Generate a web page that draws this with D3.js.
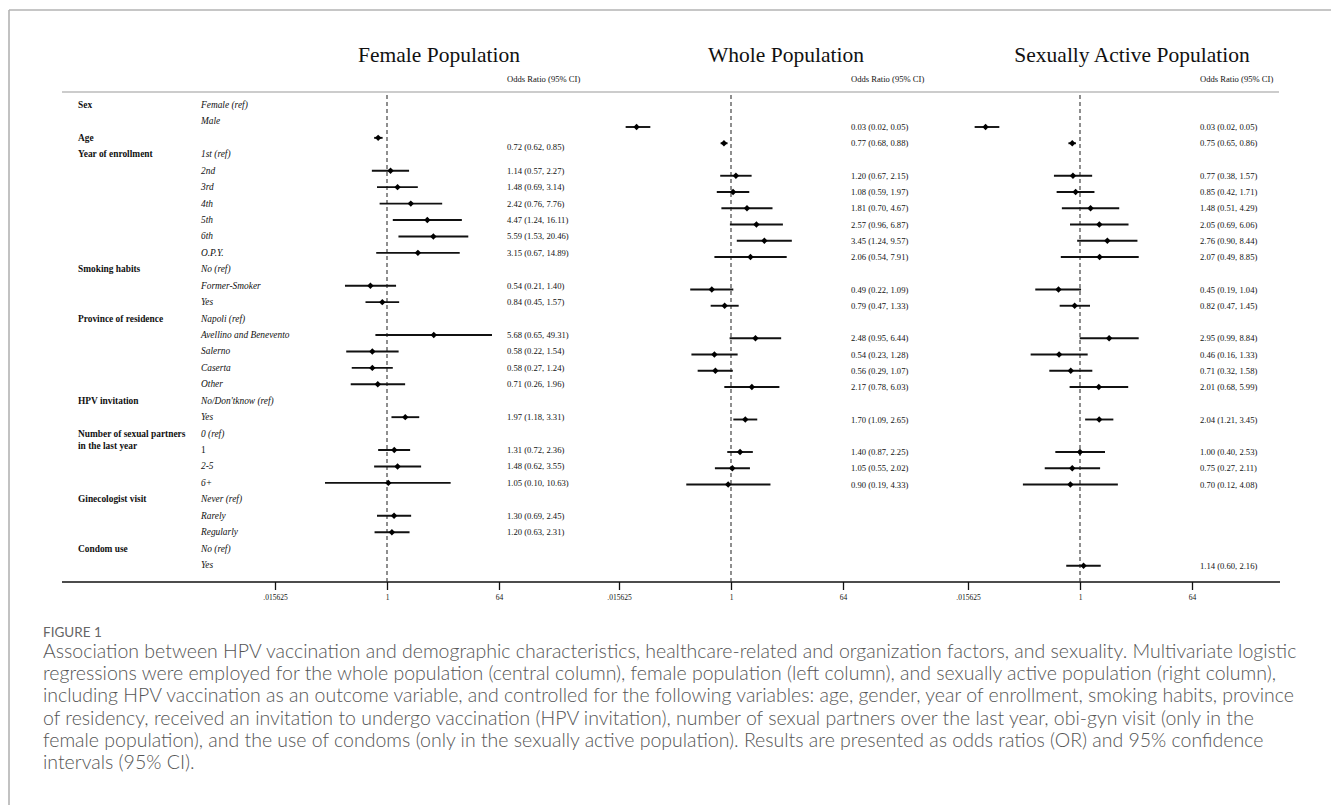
<!DOCTYPE html>
<html>
<head>
<meta charset="utf-8">
<script src="https://cdn.jsdelivr.net/npm/d3@7"></script>
<style>
  body { margin: 0; background: #fff; }
  svg { display: block; }
</style>
</head>
<body>
<script>
// row labels (left columns)
const groupLabels = ["Sex", "", "Age", "Year of enrollment", "", "", "", "", "", "",
  "Smoking habits", "", "", "Province of residence", "", "", "", "",
  "HPV invitation", "", "Number of sexual partners", "", "", "",
  "Ginecologist visit", "", "", "Condom use", ""];
const itemLabels = ["Female (ref)", "Male", "", "1st (ref)", "2nd", "3rd", "4th", "5th", "6th", "O.P.Y.",
  "No (ref)", "Former-Smoker", "Yes", "Napoli (ref)", "Avellino and Benevento", "Salerno", "Caserta", "Other",
  "No/Don'tknow (ref)", "Yes", "0 (ref)", "1", "2-5", "6+",
  "Never (ref)", "Rarely", "Regularly", "No (ref)", "Yes"];

const panelTitles = ["Female Population", "Whole Population", "Sexually Active Population"];
const tickValues = [1 / 64, 1, 64];
const tickLabels = [".015625", "1", "64"];

// Female population
const femaleRows = [2, 4, 5, 6, 7, 8, 9, 11, 12, 14, 15, 16, 17, 19, 21, 22, 23, 25, 26];
const femaleOR = [0.72, 1.14, 1.48, 2.42, 4.47, 5.59, 3.15, 0.54, 0.84, 5.68, 0.58, 0.58, 0.71, 1.97, 1.31, 1.48, 1.05, 1.30, 1.20];
const femaleLo = [0.62, 0.57, 0.69, 0.76, 1.24, 1.53, 0.67, 0.21, 0.45, 0.65, 0.22, 0.27, 0.26, 1.18, 0.72, 0.62, 0.10, 0.69, 0.63];
const femaleHi = [0.85, 2.27, 3.14, 7.76, 16.11, 20.46, 14.89, 1.40, 1.57, 49.31, 1.54, 1.24, 1.96, 3.31, 2.36, 3.55, 10.63, 2.45, 2.31];

// Whole population
const wholeRows = [1, 2, 4, 5, 6, 7, 8, 9, 11, 12, 14, 15, 16, 17, 19, 21, 22, 23];
const wholeOR = [0.03, 0.77, 1.20, 1.08, 1.81, 2.57, 3.45, 2.06, 0.49, 0.79, 2.48, 0.54, 0.56, 2.17, 1.70, 1.40, 1.05, 0.90];
const wholeLo = [0.02, 0.68, 0.67, 0.59, 0.70, 0.96, 1.24, 0.54, 0.22, 0.47, 0.95, 0.23, 0.29, 0.78, 1.09, 0.87, 0.55, 0.19];
const wholeHi = [0.05, 0.88, 2.15, 1.97, 4.67, 6.87, 9.57, 7.91, 1.09, 1.33, 6.44, 1.28, 1.07, 6.03, 2.65, 2.25, 2.02, 4.33];

// Sexually active population
const activeRows = [1, 2, 4, 5, 6, 7, 8, 9, 11, 12, 14, 15, 16, 17, 19, 21, 22, 23, 28];
const activeOR = [0.03, 0.75, 0.77, 0.85, 1.48, 2.05, 2.76, 2.07, 0.45, 0.82, 2.95, 0.46, 0.71, 2.01, 2.04, 1.00, 0.75, 0.70, 1.14];
const activeLo = [0.02, 0.65, 0.38, 0.42, 0.51, 0.69, 0.90, 0.49, 0.19, 0.47, 0.99, 0.16, 0.32, 0.68, 1.21, 0.40, 0.27, 0.12, 0.60];
const activeHi = [0.05, 0.86, 1.57, 1.71, 4.29, 6.06, 8.44, 8.85, 1.04, 1.45, 8.84, 1.33, 1.58, 5.99, 3.45, 2.53, 2.11, 4.08, 2.16];

const captionHead = "FIGURE 1";
const captionLines = [
  "Association between HPV vaccination and demographic characteristics, healthcare-related and organization factors, and sexuality. Multivariate logistic",
  "regressions were employed for the whole population (central column), female population (left column), and sexually active population (right column),",
  "including HPV vaccination as an outcome variable, and controlled for the following variables: age, gender, year of enrollment, smoking habits, province",
  "of residency, received an invitation to undergo vaccination (HPV invitation), number of sexual partners over the last year, obi-gyn visit (only in the",
  "female population), and the use of condoms (only in the sexually active population). Results are presented as odds ratios (OR) and 95% confidence",
  "intervals (95% CI)."
];

const width = 1331, height = 805;
const serif = "'Liberation Serif', 'Times New Roman', serif";
const sans = "Lato, 'Open Sans', sans-serif";

const axisY = 582, headerY = 92, plotTop = 95;
const halfSpan = 112; // pixels from 1 to 64

// panel layout
const panels = [
  { title: panelTitles[0], center: 387, titleX: 439, textX: 507, rows: femaleRows, or: femaleOR, lo: femaleLo, hi: femaleHi, y0: 105, step: 16.43 },
  { title: panelTitles[1], center: 731, titleX: 786, textX: 851, rows: wholeRows, or: wholeOR, lo: wholeLo, hi: wholeHi, y0: 110.75, step: 16.25 },
  { title: panelTitles[2], center: 1080, titleX: 1132, textX: 1200, rows: activeRows, or: activeOR, lo: activeLo, hi: activeHi, y0: 110.75, step: 16.25 }
];

const svg = d3.select("body").append("svg")
  .attr("width", width)
  .attr("height", height)
  .attr("viewBox", [0, 0, width, height]);

// frame
svg.append("line").attr("x1", 9).attr("x2", width).attr("y1", 10).attr("y2", 10)
  .attr("stroke", "#b3b3b3").attr("stroke-width", 1.6);
svg.append("line").attr("x1", 9).attr("x2", 9).attr("y1", 10).attr("y2", height)
  .attr("stroke", "#b3b3b3").attr("stroke-width", 1.6);

// header rule
svg.append("line").attr("x1", 62).attr("x2", 1279).attr("y1", headerY).attr("y2", headerY)
  .attr("stroke", "#9a9a9a").attr("stroke-width", 1.2);

// left labels
const labelY = d3.scaleLinear([0, 1], [105, 105 + 16.43]);
const labels = svg.append("g").attr("font-family", serif).attr("font-size", 9.4).attr("fill", "#111");
labels.selectAll("text.grp")
  .data(d3.range(groupLabels.length).filter((i) => groupLabels[i]))
  .join("text")
  .attr("class", "grp")
  .attr("x", 78)
  .attr("y", (i) => labelY(i) + 3)
  .attr("font-weight", 700)
  .text((i) => groupLabels[i]);
labels.append("text")
  .attr("x", 78)
  .attr("y", labelY(20) + 15)
  .attr("font-weight", 700)
  .text("in the last year");
labels.selectAll("text.itm")
  .data(d3.range(itemLabels.length).filter((i) => itemLabels[i]))
  .join("text")
  .attr("class", "itm")
  .attr("x", 201)
  .attr("y", (i) => labelY(i) + 3)
  .attr("font-style", (i) => (itemLabels[i] === "1" ? "normal" : "italic"))
  .text((i) => itemLabels[i]);

// axis rule
svg.append("line").attr("x1", 62).attr("x2", 1280).attr("y1", axisY).attr("y2", axisY)
  .attr("stroke", "#111").attr("stroke-width", 1.6);

const fmt = d3.format(".2f");

panels.forEach((p, pi) => {
  const x = d3.scaleLog().base(2).domain([1 / 64, 64]).range([p.center - halfSpan, p.center + halfSpan]);
  const y = d3.scaleLinear([0, 1], [p.y0, p.y0 + p.step]);
  const g = svg.append("g");

  // title
  g.append("text")
    .attr("x", p.titleX).attr("y", 62)
    .attr("text-anchor", "middle")
    .attr("font-family", serif).attr("font-size", 21.5).attr("fill", "#111")
    .text(p.title);
  g.append("text")
    .attr("x", p.textX).attr("y", 82)
    .attr("font-family", serif).attr("font-size", 8.6).attr("fill", "#111")
    .text("Odds Ratio (95% CI)");

  // null line
  g.append("line")
    .attr("x1", x(1)).attr("x2", x(1)).attr("y1", plotTop).attr("y2", axisY)
    .attr("stroke", "#333").attr("stroke-width", 1.1).attr("stroke-dasharray", "4,3");

  const I = d3.range(p.rows.length);

  // confidence intervals
  g.append("g").selectAll("line")
    .data(I)
    .join("line")
    .attr("x1", (i) => x(p.lo[i]))
    .attr("x2", (i) => x(p.hi[i]))
    .attr("y1", (i) => y(p.rows[i]))
    .attr("y2", (i) => y(p.rows[i]))
    .attr("stroke", "#111")
    .attr("stroke-width", 1.9);

  // point estimates
  g.append("g").selectAll("path")
    .data(I)
    .join("path")
    .attr("transform", (i) => `translate(${x(p.or[i])},${y(p.rows[i])})`)
    .attr("d", "M0,-3.2L3.2,0L0,3.2L-3.2,0Z")
    .attr("fill", "#000");

  // values
  g.append("g").selectAll("text")
    .data(I)
    .join("text")
    .attr("x", p.textX)
    .attr("y", (i) => y(p.rows[i]) + 3 + (pi === 0 && p.rows[i] === 2 ? 9.5 : 0))
    .attr("font-family", serif).attr("font-size", 8.6).attr("fill", "#111")
    .text((i) => `${fmt(p.or[i])} (${fmt(p.lo[i])}, ${fmt(p.hi[i])})`);

  // x axis ticks
  const axis = d3.axisBottom(x)
    .tickValues(tickValues)
    .tickSize(8)
    .tickFormat((d, i) => tickLabels[i]);
  g.append("g")
    .attr("transform", `translate(0,${axisY})`)
    .call(axis)
    .call((a) => a.select(".domain").remove())
    .call((a) => a.selectAll(".tick line").attr("stroke", "#111").attr("stroke-width", 1.3))
    .call((a) => a.selectAll(".tick text")
      .attr("font-family", serif).attr("font-size", 7.5).attr("fill", "#111").attr("dy", "0.9em"));
});

// caption
svg.append("text")
  .attr("x", 43).attr("y", 637)
  .attr("font-family", sans).attr("font-size", 13.5).attr("fill", "#666")
  .text(captionHead);

const cap = svg.append("g")
  .attr("font-family", sans).attr("font-weight", 300).attr("fill", "#555");
const capLines = cap.selectAll("text")
  .data(captionLines)
  .join("text")
  .attr("x", 43)
  .attr("y", (d, i) => 658 + i * 22.2)
  .attr("font-size", 16)
  .text((d) => d);

// fit caption font so the first line reaches the same right edge
const w0 = capLines.node().getComputedTextLength();
const fs = 16 * 1254 / w0;
capLines.attr("font-size", fs);
</script>
</body>
</html>
